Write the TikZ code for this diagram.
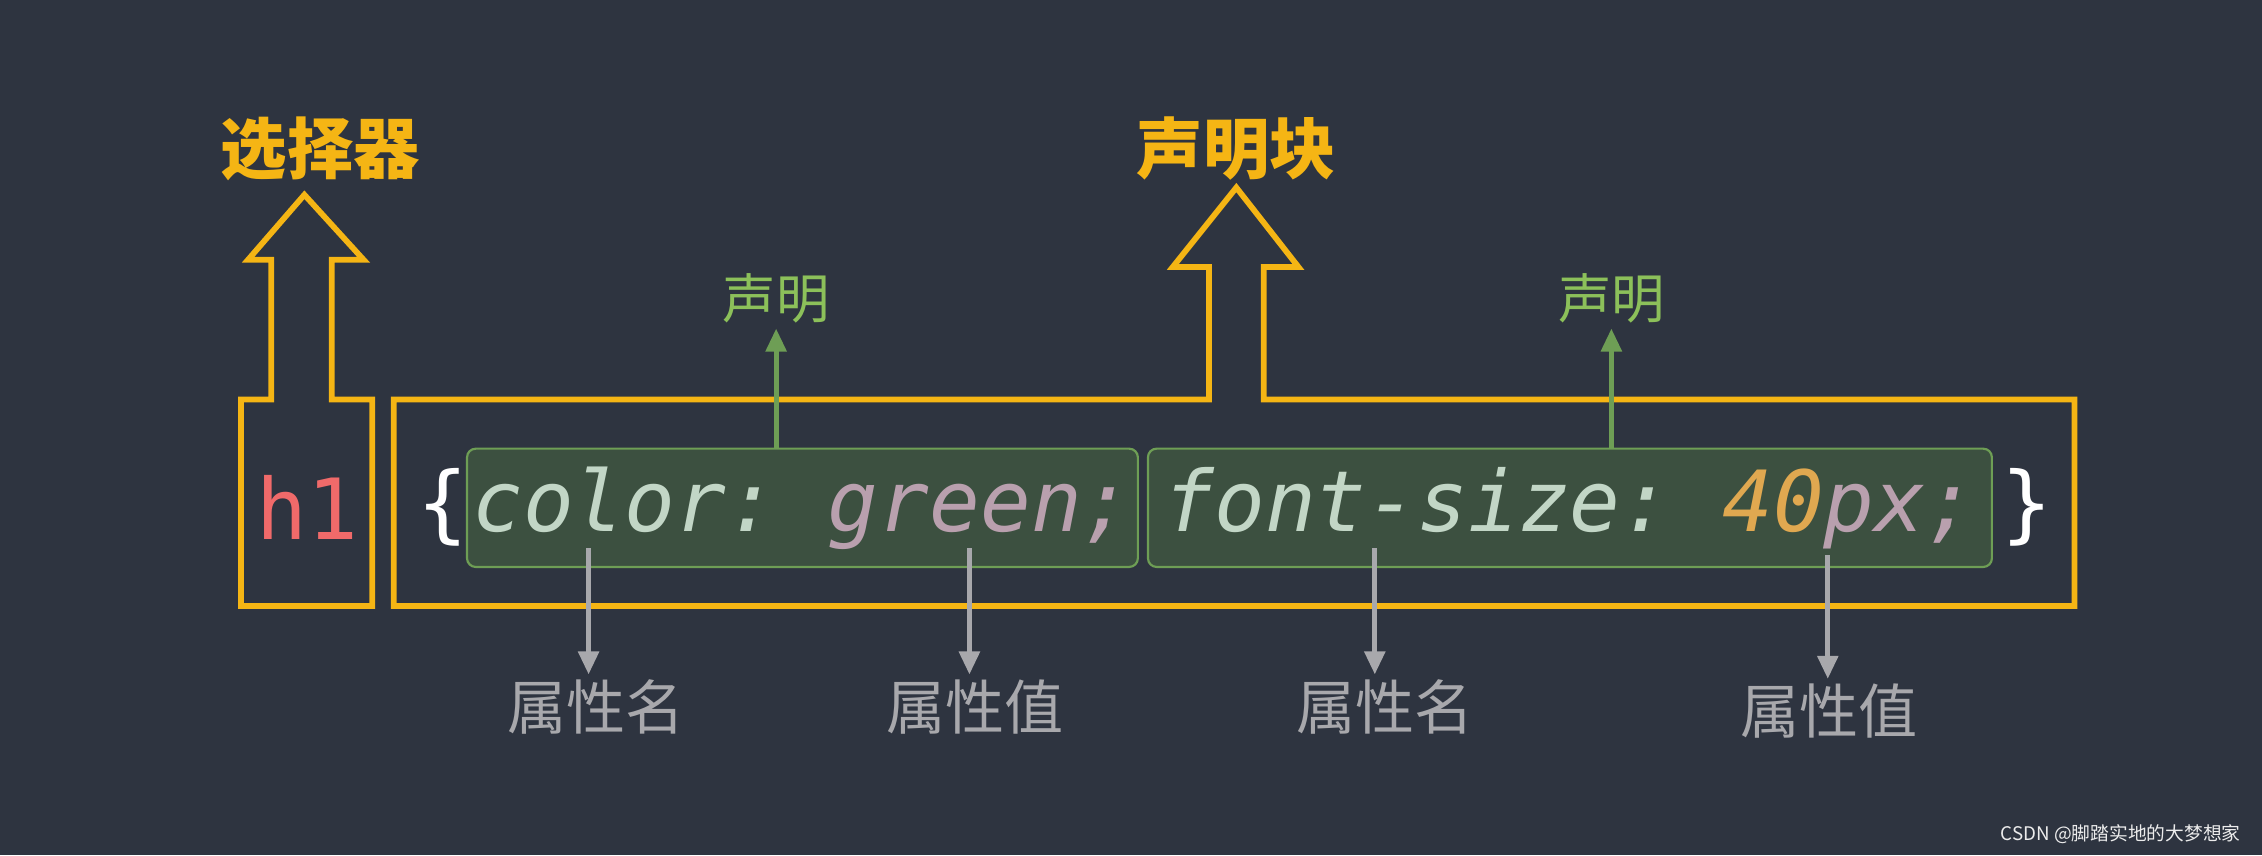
\documentclass[tikz,border=0pt]{standalone}
\usepackage{fontspec}
\setmonofont{DejaVu Sans Mono}
\newfontfamily\cjk{Noto Sans CJK SC}
\usetikzlibrary{arrows.meta,positioning}
\definecolor{bgc}{HTML}{2E3440}
\definecolor{orng}{HTML}{F5B514}
\definecolor{declfill}{HTML}{3C5040}
\definecolor{declline}{HTML}{6E9E55}
\definecolor{lblgreen}{HTML}{8CC05A}
\definecolor{codekey}{HTML}{C2D6C6}
\definecolor{codeval}{HTML}{B9A0AE}
\definecolor{codenum}{HTML}{E0A850}
\definecolor{tagred}{HTML}{F06A6A}
\definecolor{greyc}{HTML}{A8A8AC}

\begin{document}
\begin{tikzpicture}[x=1pt,y=-1pt]
  \tikzstyle{code}=[font=\fontsize{58.5}{58.5}\selectfont\ttfamily,inner sep=0pt]
  \tikzstyle{decl}=[code,draw=declline,line width=1.5pt,fill=declfill,rounded corners=6pt,
                    minimum height=82pt,inner xsep=1pt]
  \tikzstyle{title}=[font=\fontsize{46}{46}\selectfont\cjk\bfseries,text=orng]
  \tikzstyle{glbl}=[font=\fontsize{37}{37}\selectfont\cjk,text=lblgreen]
  \tikzstyle{plbl}=[font=\fontsize{41}{41}\selectfont\cjk,text=greyc]
  \tikzstyle{frame}=[draw=orng,line width=4pt,line join=miter]
  \tikzstyle{garrow}=[draw=declline,line width=3.5pt,-{Triangle[width=14pt,length=16pt]}]
  \tikzstyle{parrow}=[draw=greyc,line width=3.5pt,-{Triangle[width=14pt,length=16pt]}]

  % background
  \fill[bgc] (0,0) rectangle (1568,592.7);
  \useasboundingbox (0,0) rectangle (1568,592.7);

  % selector and block outlines
  \draw[frame] (167,420) -- (167,277) -- (188,277) -- (188,180) -- (172,180) -- (211,135)
    -- (252,180) -- (230,180) -- (230,277) -- (258,277) -- (258,420) -- cycle;
  \draw[frame] (273,420) -- (273,277) -- (838,277) -- (838,185) -- (813,185) -- (857,130)
    -- (900,185) -- (876,185) -- (876,277) -- (1438,277) -- (1438,420) -- cycle;
  \node[title] (sel) at (222,103) {选择器};
  \node[title] (blk) at (857,103) {声明块};

  % code line
  \node[code,text=tagred] (h1) at (213,352) {h1};
  \node[code,text=white] (lb) at (307,352) {\{};
  \node[decl,anchor=west,minimum width=465pt] (d1) at (323,352)
    {\itshape\color{codekey}color: \color{codeval}green;};
  \node[decl,anchor=west,minimum width=585pt] (d2) at (795,352)
    {\itshape\color{codekey}font-size: \color{codenum}40\color{codeval}px;};
  \node[code,text=white] (rb) at (1405,352) {\}};

  % declarations
  \node[glbl] (s1) at (538,207) {声明};
  \node[glbl] (s2) at (1117,207) {声明};
  \draw[garrow] (d1.north -| s1) -- (s1.south);
  \draw[garrow] (d2.north -| s2) -- (s2.south);

  % property names and values
  \node[plbl] (n1) at (413,490) {属性名};
  \node[plbl] (v1) at (676,490) {属性值};
  \node[plbl] (n2) at (960,490) {属性名};
  \node[plbl] (v2) at (1268,493) {属性值};
  \coordinate (a1) at (408,380);
  \coordinate (a2) at (672,380);
  \coordinate (a3) at (953,380);
  \coordinate (a4) at (1267,385);
  \draw[parrow] (a1) -- (a1 |- n1.north);
  \draw[parrow] (a2) -- (a2 |- v1.north);
  \draw[parrow] (a3) -- (a3 |- n2.north);
  \draw[parrow] (a4) -- (a4 |- v2.north);

  \node[font=\fontsize{13}{13}\selectfont\cjk,text=white!85!gray] (wm) at (1470,578)
    {CSDN @脚踏实地的大梦想家};
\end{tikzpicture}
\end{document}
